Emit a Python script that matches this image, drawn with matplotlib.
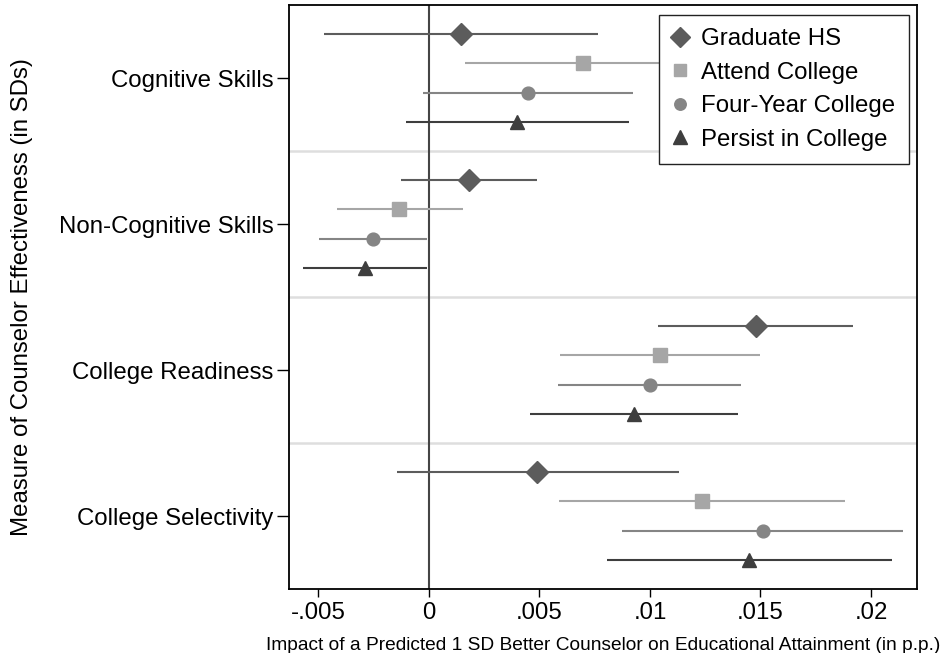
import matplotlib
matplotlib.use("Agg")
import matplotlib.pyplot as plt
import numpy as np

plt.rcParams['font.family'] = ['Liberation Sans', 'DejaVu Sans']

# Data
categories = ["Cognitive Skills", "Non-Cognitive Skills", "College Readiness", "College Selectivity"]
outcomes = ["Graduate HS", "Attend College", "Four-Year College", "Persist in College"]

# point estimates, one list per outcome, ordered like categories
est_grad_hs = [0.00145, 0.00181, 0.01478, 0.0049]
est_attend = [0.00696, -0.00134, 0.01046, 0.01235]
est_fouryear = [0.0045, -0.00255, 0.01001, 0.0151]
est_persist = [0.0040, -0.00291, 0.00928, 0.01449]

# confidence interval bounds
lo_grad_hs = [-0.00474, -0.00128, 0.01036, -0.00146]
hi_grad_hs = [0.00767, 0.0049, 0.01919, 0.01131]
lo_attend = [0.00163, -0.00415, 0.00593, 0.00589]
hi_attend = [0.0123, 0.00153, 0.01496, 0.01884]
lo_fouryear = [-0.00026, -0.00497, 0.00586, 0.00874]
hi_fouryear = [0.00924, -0.0001, 0.01412, 0.02145]
lo_persist = [-0.00104, -0.00569, 0.00457, 0.00805]
hi_persist = [0.00903, -0.0001, 0.01398, 0.02094]

xticks = [-0.005, 0, 0.005, 0.01, 0.015, 0.02]
xtick_labels = ["-.005", "0", ".005", ".01", ".015", ".02"]

# Styles
COLORS = ["#5c5c5c", "#a6a6a6", "#858585", "#3e3e3e"]
MARKERS = ["D", "s", "o", "^"]
MSIZES = [11, 9.5, 9.2, 10.5]
FS = 17.3

estimates = [est_grad_hs, est_attend, est_fouryear, est_persist]
lows = [lo_grad_hs, lo_attend, lo_fouryear, lo_persist]
highs = [hi_grad_hs, hi_attend, hi_fouryear, hi_persist]

fig = plt.figure(figsize=(9.46, 6.53), dpi=100)
ax = fig.add_axes([0.3055, 0.098, 0.9693 - 0.3055, 0.9923 - 0.098])

n_out = len(outcomes)
group_step = n_out + 1

for g in range(1, len(categories)):
    ax.axhline(g * group_step, color="#dedede", lw=1.8, zorder=1)
ax.axvline(0, color="#454545", lw=1.5, zorder=2)

handles = []
for k in range(n_out):
    ys = np.arange(len(categories)) * group_step + 1 + k
    est = np.array(estimates[k])
    lo = np.array(lows[k])
    hi = np.array(highs[k])
    ax.hlines(ys, lo, hi, color=COLORS[k], lw=1.5, zorder=3)
    h, = ax.plot(est, ys, linestyle="none", marker=MARKERS[k], color=COLORS[k],
                 markersize=MSIZES[k], zorder=4, label=outcomes[k])
    handles.append(h)

ax.set_ylim(len(categories) * group_step, 0)
ax.set_xlim(-0.00633, 0.02208)
ax.set_yticks(np.arange(len(categories)) * group_step + (n_out + 1) / 2)
ax.set_yticklabels(categories, fontsize=FS)
ax.set_xticks(xticks)
ax.set_xticklabels(xtick_labels, fontsize=FS)
ax.tick_params(axis="x", direction="out", length=6, width=1, color="black", pad=3)
ax.tick_params(axis="y", direction="out", length=9, width=1, color="black", pad=2)
for s in ax.spines.values():
    s.set_linewidth(1.3)
    s.set_color("black")

ax.set_xlabel("Impact of a Predicted 1 SD Better Counselor on Educational Attainment (in p.p.)",
              fontsize=13.8)
ax.xaxis.set_label_coords(0.5, -0.082)
ax.set_ylabel("Measure of Counselor Effectiveness (in SDs)", fontsize=FS)
ax.yaxis.set_label_coords(-0.408, 0.5)

leg = ax.legend(handles=handles, loc="upper right", bbox_to_anchor=(0.987, 0.983),
                fontsize=FS, frameon=True, fancybox=False, handlelength=0.6,
                handletextpad=0.6, borderpad=0.55, labelspacing=0.48, borderaxespad=0,
                markerscale=0.9)
leg.get_frame().set_edgecolor("#222222")
leg.get_frame().set_linewidth(1.0)
leg.get_frame().set_alpha(1)

fig.savefig("out.png", dpi=100)
